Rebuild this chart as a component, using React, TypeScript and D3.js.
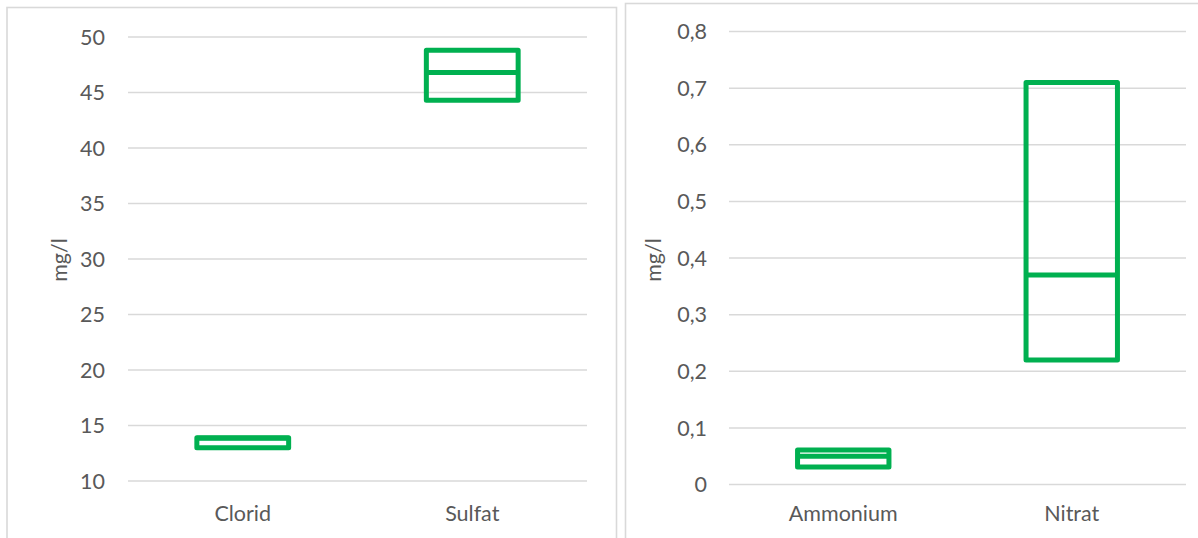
import React, { useEffect, useRef } from 'react';
import * as d3 from 'd3';

// left chart (Clorid / Sulfat), mg/l
const leftCategories = ['Clorid', 'Sulfat'];
const leftLow = [13.0, 44.3];
const leftMid = [13.85, 46.8];
const leftHigh = [13.9, 48.8];
const leftTicks = [10, 15, 20, 25, 30, 35, 40, 45, 50];

// right chart (Ammonium / Nitrat), mg/l
const rightCategories = ['Ammonium', 'Nitrat'];
const rightLow = [0.031, 0.22];
const rightMid = [0.05, 0.37];
const rightHigh = [0.061, 0.71];
const rightTicks = [0, 0.1, 0.2, 0.3, 0.4, 0.5, 0.6, 0.7, 0.8];

const GREEN = '#00B050';
const GRID = '#d9d9d9';
const TEXT = '#595959';

const commaFormat = d3.formatLocale({
  decimal: ',',
  thousands: '.',
  grouping: [3],
  currency: ['', '']
}).format('~g');

const App: React.FC = () => {
  const svgRef = useRef<SVGSVGElement>(null);

  useEffect(() => {
    if (!svgRef.current) return;
    const svg = d3.select(svgRef.current);
    svg.selectAll('*').remove();

    const drawPanel = (opts: any) => {
      const g = svg.append('g');

      // chart frame
      g.append('rect')
        .attr('x', opts.frame[0])
        .attr('y', opts.frame[1])
        .attr('width', opts.frame[2])
        .attr('height', opts.frame[3])
        .attr('fill', '#fff')
        .attr('stroke', GRID)
        .attr('stroke-width', 1.6);

      const x = d3.scaleBand<string>()
        .domain(opts.categories)
        .range([opts.x0, opts.x1]);

      const y = d3.scaleLinear()
        .domain(opts.domain)
        .range([opts.yBottom, opts.yTop]);

      // gridlines
      g.append('g')
        .selectAll('line')
        .data(opts.ticks)
        .join('line')
        .attr('x1', opts.x0)
        .attr('x2', opts.x1)
        .attr('y1', (d: number) => y(d))
        .attr('y2', (d: number) => y(d))
        .attr('stroke', GRID)
        .attr('stroke-width', 1.5);

      // tick labels
      g.append('g')
        .selectAll('text')
        .data(opts.ticks)
        .join('text')
        .attr('x', opts.labelX)
        .attr('y', (d: number) => y(d))
        .attr('dy', '0.36em')
        .attr('text-anchor', 'end')
        .attr('fill', TEXT)
        .style('font-size', '21.5px')
        .text((d: number) => opts.fmt(d));

      // category labels
      g.append('g')
        .selectAll('text')
        .data(opts.categories)
        .join('text')
        .attr('x', (d: string) => (x(d) as number) + x.bandwidth() / 2)
        .attr('y', 521)
        .attr('text-anchor', 'middle')
        .attr('fill', TEXT)
        .style('font-size', '21.5px')
        .text((d: string) => d);

      // axis title
      g.append('text')
        .attr('transform', `translate(${opts.titleX},260) rotate(-90)`)
        .attr('text-anchor', 'middle')
        .attr('fill', TEXT)
        .style('font-size', '21.5px')
        .text('mg/l');

      // high-low boxes
      const boxW = x.bandwidth() * 0.4;
      const boxes = g.append('g')
        .attr('fill', 'none')
        .attr('stroke', GREEN)
        .attr('stroke-width', 5)
        .attr('stroke-linejoin', 'round');

      opts.categories.forEach((c: string, i: number) => {
        const cx = (x(c) as number) + x.bandwidth() / 2;
        boxes.append('rect')
          .attr('x', cx - boxW / 2)
          .attr('y', y(opts.high[i]))
          .attr('width', boxW)
          .attr('height', y(opts.low[i]) - y(opts.high[i]));
        boxes.append('line')
          .attr('x1', cx - boxW / 2)
          .attr('x2', cx + boxW / 2)
          .attr('y1', y(opts.mid[i]))
          .attr('y2', y(opts.mid[i]));
      });
    };

    drawPanel({
      frame: [7, 7.5, 609.5, 540],
      categories: leftCategories,
      low: leftLow,
      mid: leftMid,
      high: leftHigh,
      ticks: leftTicks,
      domain: [10, 50],
      x0: 128,
      x1: 587,
      yBottom: 481,
      yTop: 37,
      labelX: 105,
      titleX: 67,
      fmt: (d: number) => String(d)
    });

    drawPanel({
      frame: [625.5, 3.5, 600, 540],
      categories: rightCategories,
      low: rightLow,
      mid: rightMid,
      high: rightHigh,
      ticks: rightTicks,
      domain: [0, 0.8],
      x0: 729,
      x1: 1186,
      yBottom: 484.5,
      yTop: 31.5,
      labelX: 707,
      titleX: 661,
      fmt: (d: number) => commaFormat(d)
    });
  }, []);

  return (
    <svg
      ref={svgRef}
      width={1198}
      height={538}
      style={{
        position: 'absolute',
        left: 0,
        top: 0,
        background: '#ffffff',
        fontFamily: 'Lato, "Open Sans", sans-serif'
      }}
    />
  );
};

export default App;
